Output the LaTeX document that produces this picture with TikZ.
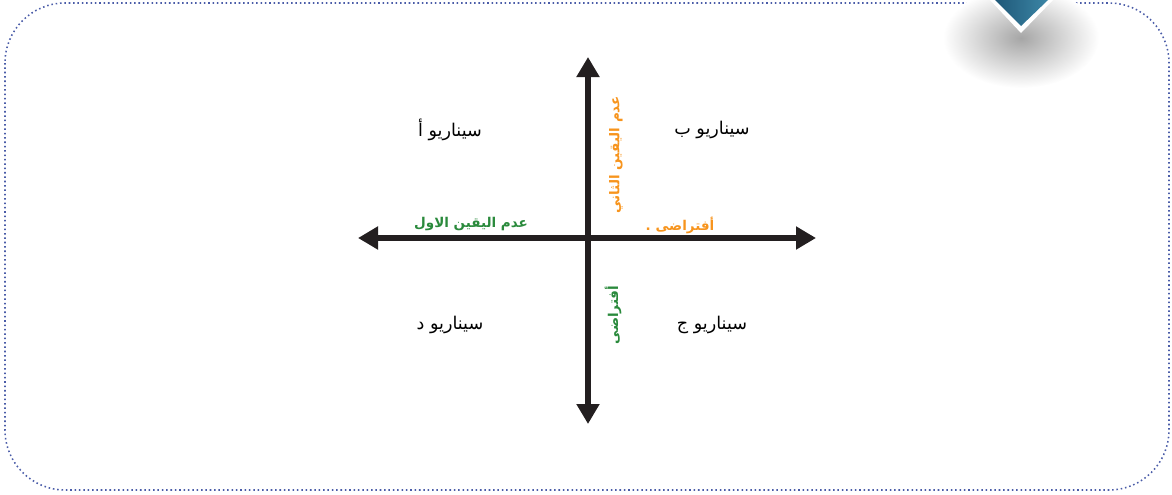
\documentclass[tikz,border=0pt]{standalone}
\usepackage{fontspec}
\newfontfamily\arabicfont[Script=Arabic]{DejaVu Sans}
\TeXXeTstate=1
\usetikzlibrary{arrows.meta,shapes.geometric}
\definecolor{axisgray}{HTML}{231F20}
\definecolor{orangetxt}{HTML}{F7941D}
\definecolor{greentxt}{HTML}{2A8A3C}
\definecolor{framebl}{HTML}{4A5CA8}
\definecolor{chevdark}{HTML}{1F5878}
\definecolor{chevlight}{HTML}{3C86A6}

\begin{document}
\begin{tikzpicture}[x=0.025cm,y=-0.025cm,
  lbl/.style={font=\arabicfont\fontsize{12.5}{14}\selectfont,text=black,inner sep=1pt},
  unc/.style={lbl,font=\arabicfont\bfseries\fontsize{9.6}{12}\selectfont},
  axis/.style={line width=4.3pt,draw=axisgray,{Triangle[length=5mm,width=5.5mm]}-{Triangle[length=5mm,width=5.5mm]}}]
\useasboundingbox (0,0) rectangle (1172,494);
% frame
\draw[framebl,dotted,line width=1.1pt,rounded corners=1.5cm] (5,3) rectangle (1169,490);
% chevron with shadow
\shade[inner color=black!35,outer color=white] (1021,38) ellipse (78 and 50);
\fill[white] (990,0) -- (1053,0) -- (1021,33) -- cycle;
\shade[left color=chevdark,right color=chevlight] (995,0) -- (1048,0) -- (1021,26) -- cycle;
% axes
\coordinate (wst) at (358,238); \coordinate (est) at (816,238);
\coordinate (nth) at (588,57);  \coordinate (sth) at (588,424);
\draw[axis] (wst) -- (est);
\draw[axis] (nth) -- (sth);
% scenarios
\foreach \n/\x/\y/\t in {sa/450/130/أ,sb/712/130/ب,sd/450/325/د,sc/712/325/ج}
  \node[lbl] (\n) at (\x,\y) {\beginR سيناريو \t\endR};
% uncertainties and hypotheses
\node[unc,text=greentxt] (u1) at (471,224) {\beginR عدم اليقين الاول\endR};
\node[unc,text=orangetxt,rotate=90] (u2) at (616,155) {\beginR عدم اليقين الثاني\endR};
\node[unc,text=orangetxt] (h1) at (680,225) {\beginR أفتراضى .\endR};
\node[unc,text=greentxt,rotate=90] (h2) at (613,315) {\beginR أفتراضى\endR};
\end{tikzpicture}
\end{document}
